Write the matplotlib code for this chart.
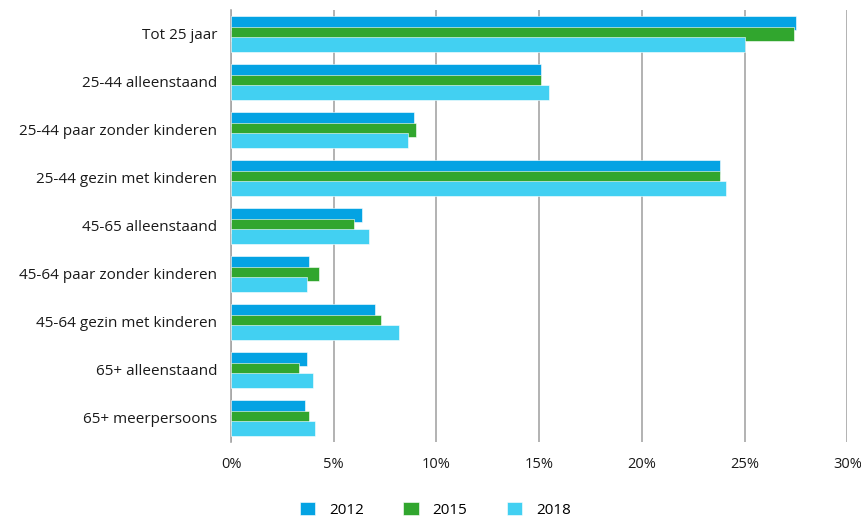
import matplotlib
matplotlib.use("Agg")
import matplotlib.pyplot as plt
import numpy as np

categories = [
    "Tot 25 jaar",
    "25-44 alleenstaand",
    "25-44 paar zonder kinderen",
    "25-44 gezin met kinderen",
    "45-65 alleenstaand",
    "45-64 paar zonder kinderen",
    "45-64 gezin met kinderen",
    "65+ alleenstaand",
    "65+ meerpersoons",
]
years = ["2012", "2015", "2018"]
values_2012 = [27.5, 15.1, 8.9, 23.8, 6.4, 3.8, 7.0, 3.7, 3.6]
values_2015 = [27.4, 15.1, 9.0, 23.8, 6.0, 4.3, 7.3, 3.3, 3.8]
values_2018 = [25.0, 15.5, 8.6, 24.1, 6.7, 3.7, 8.2, 4.0, 4.1]
xticks = [0, 5, 10, 15, 20, 25, 30]

colors = ["#04A3E3", "#31A62E", "#42D0F2"]
series = [values_2012, values_2015, values_2018]

plt.rcParams["font.family"] = ["Open Sans", "DejaVu Sans"]

fig = plt.figure(figsize=(8.62, 5.18), dpi=100)
ax = fig.add_axes([0.268, 0.147, 0.715, 0.834])

y = np.arange(len(categories))
offsets = [-0.223, 0.0, 0.223]
bar_h = 0.30
handles = []
for vals, off, col, lab in zip(series, offsets, colors, years):
    h = ax.barh(y + off, vals, height=bar_h, color=col, edgecolor="white",
                linewidth=0.4, label=lab, zorder=3)
    handles.append(h)

ax.set_ylim(len(categories) - 0.5, -0.5)
ax.set_xlim(0, 30)
ax.set_yticks(y)
ax.set_yticklabels(categories, fontsize=11, color="#1a1a1a")
ax.set_xticks(xticks)
ax.set_xticklabels([f"{t}%" for t in xticks], fontsize=10.5, color="#1a1a1a")
ax.tick_params(axis="both", length=0)
ax.tick_params(axis="y", pad=10)
ax.tick_params(axis="x", pad=11)

ax.grid(axis="x", color="#a6a6a6", linewidth=1.2, zorder=0)
ax.set_axisbelow(True)
for s in ["top", "right", "bottom"]:
    ax.spines[s].set_visible(False)
ax.spines["left"].set_color("#a6a6a6")
ax.spines["left"].set_linewidth(1.2)

fig.legend(handles=handles, labels=years, loc="lower center", ncol=3,
           bbox_to_anchor=(0.505, -0.026), frameon=False, fontsize=11,
           handlelength=1.0, handleheight=1.0, columnspacing=2.6,
           handletextpad=0.9)

fig.savefig("out.png", dpi=100)
